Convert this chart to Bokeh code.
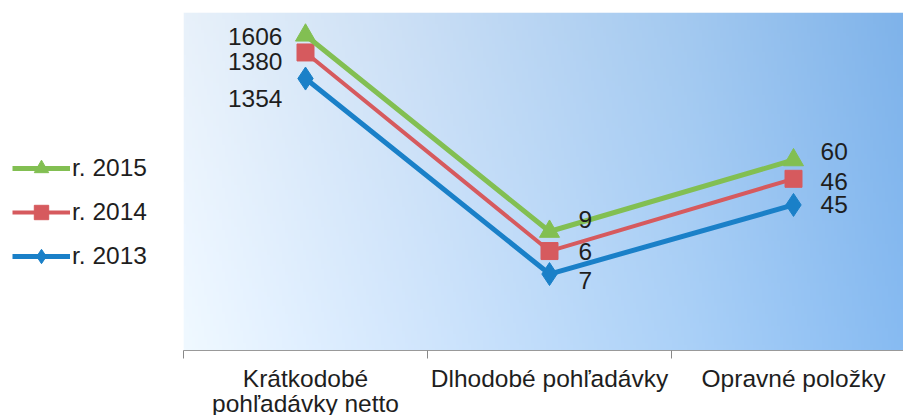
import numpy as np
from bokeh.plotting import figure
from bokeh.layouts import row
from bokeh.models import Legend, LegendItem, FixedTicker, Range1d
from bokeh.core.properties import value
from bokeh.embed import file_html
from bokeh.resources import INLINE

# ---- data ----
categories = ["Krátkodobé\npohľadávky netto", "Dlhodobé pohľadávky", "Opravné položky"]
series_names = ["r. 2013", "r. 2014", "r. 2015"]
y2013 = [1354, 7, 45]
y2014 = [1380, 6, 46]
y2015 = [1606, 9, 60]

# ---- styles ----
FONT = "Liberation Sans"
FS = "24.5px"
colors = {"r. 2013": "#1a80c8", "r. 2014": "#d65a5e", "r. 2015": "#82bf52"}
markers = {"r. 2013": "diamond", "r. 2014": "square", "r. 2015": "triangle"}
msize = {"r. 2013": 23, "r. 2014": 17, "r. 2015": 20}
lwidth = {"r. 2013": 5, "r. 2014": 4, "r. 2015": 5}
label_dy = {"r. 2013": [20, 6, 0], "r. 2014": [9, 0, 3], "r. 2015": [1, -12, -9]}
label_dx = [-23, 29, 27]
label_align = ["right", "left", "left"]

xs = [i + 0.5 for i in range(len(categories))]
stack13 = np.array(y2013, dtype=float)
stack14 = stack13 + np.array(y2014)
stack15 = stack14 + np.array(y2015)
stacked = {"r. 2013": stack13, "r. 2014": stack14, "r. 2015": stack15}
raw = {"r. 2013": y2013, "r. 2014": y2014, "r. 2015": y2015}

Y_LO, Y_HI = 0.893, 8020.0
X_HI = 720 / 244.0

p = figure(frame_width=720, frame_height=338, output_backend="svg", toolbar_location=None,
           y_axis_type="log", x_range=Range1d(0, X_HI), y_range=Range1d(Y_LO, Y_HI),
           min_border_left=0, min_border_right=0, min_border_top=12, min_border_bottom=0)
p.outline_line_color = None
p.grid.visible = False
p.yaxis.visible = False
p.background_fill_color = "white"
p.border_fill_color = "white"

# background gradient
W, H = 240, 120
tx = np.linspace(0, 1, W)
stops_t = [0.0, 0.33, 0.7, 1.0]
stops_c = np.array([[232, 241, 250], [201, 222, 245], [163, 201, 240], [127, 179, 234]], dtype=float)
cols = np.stack([np.interp(tx, stops_t, stops_c[:, k]) for k in range(3)], axis=1)
ty = np.linspace(0, 1, H)[:, None]
img = np.zeros((H, W), dtype=np.uint32)
view = img.view(dtype=np.uint8).reshape((H, W, 4))
for k in range(3):
    view[:, :, k] = np.clip(cols[None, :, k] + (1 - ty) * 8, 0, 255).astype(np.uint8)
view[:, :, 3] = 255
p.image_rgba(image=[img], x=0, y=Y_LO, dw=X_HI, dh=Y_HI - Y_LO)

# legend-only figure on the left (its renderers share the data but lie outside its view)
lf = figure(width=183, height=415, output_backend="svg", toolbar_location=None,
            x_range=Range1d(0, 1), y_range=Range1d(0, 1),
            x_axis_location=None, y_axis_location=None,
            min_border_left=0, min_border_right=0, min_border_top=0, min_border_bottom=0)
lf.outline_line_color = None
lf.grid.visible = False
lf.background_fill_color = "white"
lf.border_fill_color = "white"

legend_items = {}
for name in series_names:
    c = colors[name]
    p.line(xs, stacked[name], line_color=c, line_width=lwidth[name])
    p.scatter(xs, stacked[name], marker=markers[name], size=msize[name],
              fill_color=c, line_color=c)
    ln = lf.line(xs, stacked[name], line_color=c, line_width=lwidth[name])
    mk = lf.scatter(xs, stacked[name], marker=markers[name], size=msize[name],
                    fill_color=c, line_color=c)
    legend_items[name] = [ln, mk]
    for i in range(len(categories)):
        p.text(x=[xs[i]], y=[stacked[name][i]], text=[str(raw[name][i])],
               x_offset=label_dx[i], y_offset=label_dy[name][i],
               text_align=label_align[i], text_baseline="middle",
               text_font=value(FONT), text_font_size=FS, text_color="#1e1e1e")

legend = Legend(items=[LegendItem(label=n, renderers=legend_items[n]) for n in reversed(series_names)],
                location=(12, 71), orientation="vertical")
legend.border_line_color = None
legend.background_fill_alpha = 0
legend.padding = 0
legend.margin = 0
legend.glyph_width = 58
legend.glyph_height = 36
legend.label_height = 36
legend.spacing = 8
legend.label_standoff = 2
legend.label_text_font = FONT
legend.label_text_font_size = FS
legend.label_text_color = "#1e1e1e"
lf.add_layout(legend)

ax = p.xaxis[0]
ax.ticker = FixedTicker(ticks=xs, minor_ticks=[0, 1, 2, 3])
ax.major_label_overrides = {x: c for x, c in zip(xs, categories)}
ax.major_tick_line_color = None
ax.minor_tick_line_color = "#888888"
ax.minor_tick_in = 0
ax.minor_tick_out = 8
ax.axis_line_color = "#999999"
ax.major_label_standoff = 6
ax.major_label_text_font = FONT
ax.major_label_text_font_size = FS
ax.major_label_text_line_height = 0.95
ax.major_label_text_color = "#1e1e1e"

layout = row(lf, p, spacing=0)
open("out.html", "w").write(file_html(layout, INLINE))
